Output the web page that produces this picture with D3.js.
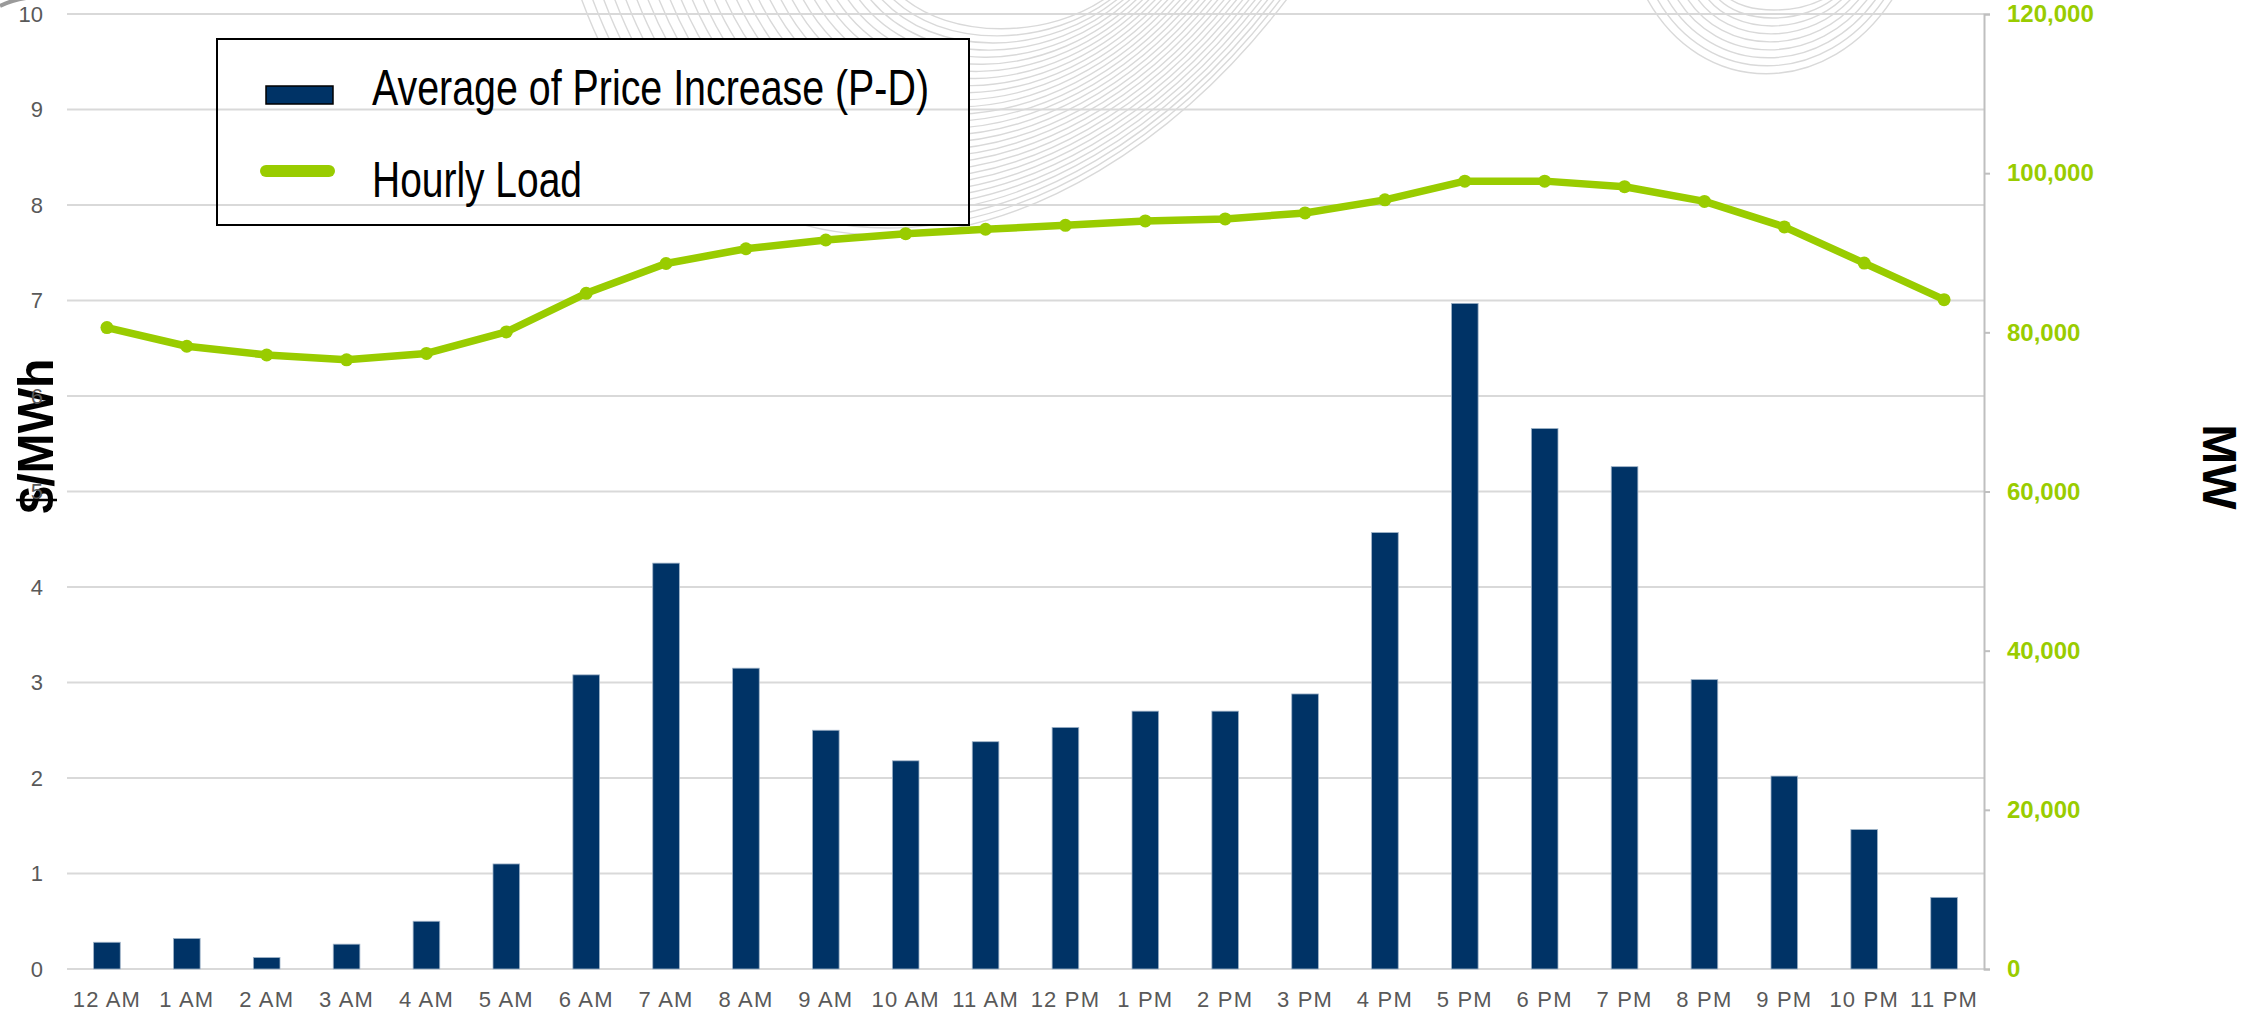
<!DOCTYPE html>
<html>
<head>
<meta charset="utf-8">
<script src="https://cdn.jsdelivr.net/npm/d3@7"></script>
<style>
  body { margin: 0; background: #fff; }
  svg { display: block; }
</style>
</head>
<body>
<script>
// hourly categories
const hours = ["12 AM","1 AM","2 AM","3 AM","4 AM","5 AM","6 AM","7 AM","8 AM","9 AM","10 AM","11 AM",
               "12 PM","1 PM","2 PM","3 PM","4 PM","5 PM","6 PM","7 PM","8 PM","9 PM","10 PM","11 PM"];
// Average of Price Increase (P-D), $/MWh
const priceIncrease = [0.28, 0.32, 0.12, 0.26, 0.50, 1.10, 3.08, 4.25, 3.15, 2.50, 2.18, 2.38,
                       2.53, 2.70, 2.70, 2.88, 4.57, 6.97, 5.66, 5.26, 3.03, 2.02, 1.46, 0.75];
// Hourly Load, MW
const hourlyLoad = [80600, 78250, 77150, 76550, 77350, 80050, 84900, 88650, 90500, 91600, 92400, 92950,
                    93450, 94000, 94250, 95000, 96650, 99000, 99000, 98300, 96450, 93250, 88700, 84100];
const leftTicks = [0,1,2,3,4,5,6,7,8,9,10];
const rightTicks = [0,20000,40000,60000,80000,100000,120000];

const w = 2258;
const h = 1011;
const plotL = 67, plotR = 1984, plotT = 14, plotB = 969;

let svg = d3.select("body")
            .append("svg")
            .attr("width", w)
            .attr("height", h);

let x = d3.scaleBand().domain(hours).range([plotL, plotR]).padding(0);
let y = d3.scaleLinear().domain([0, 10]).range([plotB, plotT]);
let yR = d3.scaleLinear().domain([0, 120000]).range([plotB, plotT]);

// faint background swirl (slide decoration)
let deco = svg.append("g").attr("fill", "none").attr("stroke", "#d9d9d9").attr("stroke-width", 1.4);
function fan(a, b, n) {
  for (let i = 0; i < n; i++) {
    let t = i / (n - 1);
    let p = a.map((v, k) => v + (b[k] - v) * t);
    deco.append("path")
        .attr("d", `M${p[0]},${p[1]} C${p[2]},${p[3]} ${p[4]},${p[5]} ${p[6]},${p[7]}`);
  }
}
fan([580, -5, 700, 330, 1060, 300, 1290, -5], [900, -5, 950, 40, 1050, 40, 1110, -5], 30);
fan([1645, -5, 1700, 100, 1830, 100, 1895, -5], [1725, -5, 1745, 15, 1800, 15, 1830, -5], 9);
svg.append("path").attr("d", "M0,6 Q12,0 26,-2").attr("fill", "none")
   .attr("stroke", "#9a9a9a").attr("stroke-width", 4);

// legend background hides the swirl
const lg = {x: 217, y: 39, w: 752, h: 186};
svg.append("rect").attr("x", lg.x).attr("y", lg.y).attr("width", lg.w).attr("height", lg.h)
   .attr("fill", "#fff");

// gridlines
svg.append("g").selectAll("line")
   .data(leftTicks)
   .enter()
   .append("line")
   .attr("x1", plotL).attr("x2", plotR)
   .attr("y1", d => y(d)).attr("y2", d => y(d))
   .attr("stroke", "#d9d9d9").attr("stroke-width", 2);

// right axis
let axR = svg.append("g")
   .attr("transform", `translate(${plotR},0)`)
   .call(d3.axisRight(yR).tickValues(rightTicks).tickSize(6).tickPadding(17).tickFormat(d3.format(",")));
axR.select(".domain").attr("stroke", "#bfbfbf").attr("stroke-width", 2);
axR.selectAll("line").attr("stroke", "#bfbfbf").attr("stroke-width", 2);
axR.selectAll("text").attr("font-family", "Liberation Sans, Arial, sans-serif")
   .attr("font-size", 24).attr("font-weight", "bold").attr("fill", "#99cc00");

// bottom labels
let axB = svg.append("g")
   .attr("transform", `translate(0,${plotB})`)
   .call(d3.axisBottom(x).tickSize(0).tickPadding(22));
axB.select(".domain").remove();
axB.selectAll("text").attr("font-family", "Liberation Sans, Arial, sans-serif")
   .attr("font-size", 22).attr("letter-spacing", 1.2).attr("fill", "#595959");

// bars
const bw = x.bandwidth();
svg.append("g").selectAll("rect")
   .data(priceIncrease)
   .enter()
   .append("rect")
   .attr("x", (d, i) => x(hours[i]) + bw / 3)
   .attr("width", bw / 3)
   .attr("y", d => y(d))
   .attr("height", d => y(0) - y(d))
   .attr("fill", "#003366")
   .attr("stroke", "#9fb3c8").attr("stroke-width", 0.8);

// load line
let line = d3.line()
   .x((d, i) => x(hours[i]) + bw / 2)
   .y(d => yR(d));
svg.append("path")
   .datum(hourlyLoad)
   .attr("d", line)
   .attr("fill", "none")
   .attr("stroke", "#99cc00")
   .attr("stroke-width", 7.5)
   .attr("stroke-linejoin", "round");
svg.append("g").selectAll("circle")
   .data(hourlyLoad)
   .enter()
   .append("circle")
   .attr("cx", (d, i) => x(hours[i]) + bw / 2)
   .attr("cy", d => yR(d))
   .attr("r", 6.5)
   .attr("fill", "#99cc00");

// axis titles
svg.append("text")
   .attr("transform", "translate(53,436) rotate(-90)")
   .attr("text-anchor", "middle")
   .attr("font-family", "Liberation Sans, Arial, sans-serif")
   .attr("font-size", 50).attr("font-weight", "bold").attr("fill", "#000")
   .attr("textLength", 155).attr("lengthAdjust", "spacingAndGlyphs")
   .text("$/MWh");
svg.append("text")
   .attr("transform", "translate(2203,467) rotate(90)")
   .attr("text-anchor", "middle")
   .attr("font-family", "Liberation Sans, Arial, sans-serif")
   .attr("font-size", 48).attr("font-weight", "bold").attr("fill", "#000")
   .text("MW");

// left axis labels (drawn over the title, as in the original)
let axL = svg.append("g")
   .attr("transform", `translate(${plotL},0)`)
   .call(d3.axisLeft(y).tickValues(leftTicks).tickSize(0).tickPadding(24));
axL.select(".domain").remove();
axL.selectAll("text").attr("font-family", "Liberation Sans, Arial, sans-serif")
   .attr("font-size", 22).attr("fill", "#595959");

// legend
svg.append("rect").attr("x", lg.x).attr("y", lg.y).attr("width", lg.w).attr("height", lg.h)
   .attr("fill", "none").attr("stroke", "#000").attr("stroke-width", 2);
svg.append("rect").attr("x", 266).attr("y", 86).attr("width", 67).attr("height", 18)
   .attr("fill", "#003366").attr("stroke", "#000").attr("stroke-width", 1.5);
svg.append("line").attr("x1", 266).attr("x2", 329).attr("y1", 171).attr("y2", 171)
   .attr("stroke", "#99cc00").attr("stroke-width", 12).attr("stroke-linecap", "round");
const legendFont = "Liberation Sans Narrow, Arial Narrow, Liberation Sans, Arial, sans-serif";
svg.append("text").attr("x", 372).attr("y", 105)
   .attr("font-family", legendFont).attr("font-size", 50).attr("fill", "#000")
   .attr("textLength", 557).attr("lengthAdjust", "spacingAndGlyphs")
   .text("Average of Price Increase  (P-D)");
svg.append("text").attr("x", 372).attr("y", 197)
   .attr("font-family", legendFont).attr("font-size", 50).attr("fill", "#000")
   .attr("textLength", 210).attr("lengthAdjust", "spacingAndGlyphs")
   .text("Hourly Load");
</script>
</body>
</html>
